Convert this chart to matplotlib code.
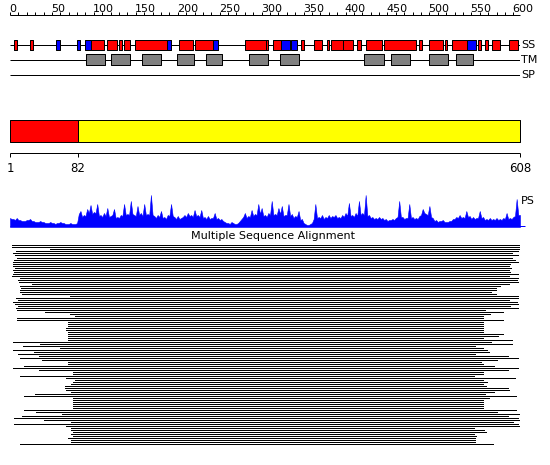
import matplotlib
matplotlib.use('Agg')
import matplotlib.pyplot as plt
import numpy as np

# ---------------- data ----------------
seq_len = 608
ruler_minor = list(range(0, 601, 10))
ruler_major = list(range(0, 601, 50))

# secondary structure: helices (red) and strands (blue) as (start, end)
ss_helix = [(5, 8), (24, 28), (96, 112), (116, 127), (130, 133), (136, 143),
            (149, 187), (201, 218), (220, 242), (280, 305), (305, 308),
            (313, 323), (347, 350), (363, 372), (378, 380), (383, 397),
            (397, 409), (414, 418), (424, 443), (446, 484), (487, 491),
            (500, 516), (518, 521), (527, 545), (558, 561), (566, 570),
            (575, 584), (595, 606)]
ss_strand = [(55, 60), (80, 84), (89, 96), (187, 192), (242, 248),
             (323, 334), (335, 342), (545, 556)]
# transmembrane segments
tm_segments = [(91, 113), (120, 143), (157, 180), (199, 219), (234, 253),
               (285, 308), (322, 345), (422, 446), (454, 477), (500, 522),
               (532, 552)]
track_labels = ['SS', 'TM', 'SP']

# domain bar
domain_bounds = [1, 82, 608]
domain_colors = ['#ff0000', '#ffff00']

# PS profile (one value every 2 residues)
ps_residues = list(range(0, 609, 2))
ps_values = [9, 8, 8, 7, 9, 7, 7, 6, 6, 6, 7, 7, 8, 6, 6, 5, 5, 5, 6, 5,
             5, 4, 4, 4, 5, 4, 4, 3, 4, 4, 5, 4, 4, 3, 3, 3, 4, 3, 3, 3,
             4, 13, 16, 10, 12, 11, 18, 14, 22, 13, 15, 14, 23, 11, 12, 10, 14, 11, 19, 10,
             11, 12, 18, 9, 10, 9, 12, 11, 23, 12, 13, 12, 26, 13, 12, 11, 21, 12, 14, 11,
             23, 12, 13, 12, 32, 12, 11, 9, 12, 10, 16, 9, 10, 8, 12, 11, 23, 11, 10, 8,
             11, 8, 9, 10, 12, 10, 14, 11, 12, 10, 17, 11, 12, 10, 17, 9, 10, 8, 11, 8,
             9, 9, 14, 8, 9, 7, 8, 6, 5, 4, 4, 3, 5, 4, 3, 3, 4, 6, 8, 10,
             14, 9, 11, 10, 17, 11, 13, 12, 23, 13, 19, 11, 12, 10, 14, 12, 26, 12, 13, 12,
             19, 13, 21, 11, 12, 12, 23, 11, 13, 9, 11, 10, 16, 7, 8, 4, 3, 2, 2, 3,
             4, 8, 23, 9, 10, 9, 12, 8, 10, 9, 12, 9, 11, 10, 12, 9, 10, 9, 12, 10,
             14, 11, 24, 11, 12, 10, 14, 11, 26, 12, 14, 12, 32, 11, 12, 9, 10, 8, 9, 8,
             10, 8, 9, 7, 8, 6, 7, 7, 8, 7, 9, 10, 26, 10, 10, 8, 9, 9, 23, 9,
             10, 8, 9, 8, 11, 12, 18, 14, 13, 12, 21, 10, 9, 6, 7, 5, 6, 6, 7, 5,
             5, 5, 6, 6, 8, 8, 10, 9, 12, 9, 10, 9, 16, 10, 11, 8, 10, 8, 9, 9,
             16, 9, 10, 7, 8, 7, 9, 7, 8, 7, 9, 7, 8, 7, 9, 8, 14, 8, 9, 8,
             10, 11, 28, 12, 12]

# multiple sequence alignment: start / end residue of each aligned sequence
msa_start = [3, 3, 49, 8, 5, 7, 9, 6, 4, 5,
             4, 7, 5, 6, 5, 3, 13, 11, 12, 27,
             13, 14, 13, 13, 15, 72, 8, 11, 5, 7,
             11, 8, 9, 43, 72, 78, 9, 9, 70, 70,
             70, 68, 68, 70, 70, 70, 70, 70,
             5, 37, 16, 60, 4, 29, 11, 35, 13, 39,
             70, 70, 18, 4, 35, 76, 76, 13, 68, 78,
             76, 74, 66, 66, 68, 74, 31, 18, 76, 76,
             76, 76, 76, 76, 18, 32, 63, 15, 6, 41,
             74, 6, 68, 74, 74, 76, 74, 76, 70, 74,
             74, 13]
msa_end = [608, 608, 607, 606, 599, 606, 598, 602, 606, 596,
           595, 597, 595, 596, 606, 595, 606, 604, 606, 595,
           584, 580, 579, 574, 580, 606, 606, 595, 604, 606,
           596, 606, 566, 588, 572, 564, 564, 588, 564, 564,
           564, 564, 564, 564, 588, 582, 564, 598,
           574, 599, 555, 564, 569, 571, 555, 594, 606, 581,
           562, 564, 577, 606, 594, 564, 564, 553, 602, 564,
           569, 564, 568, 594, 595, 577, 566, 603, 571, 564,
           564, 564, 564, 564, 603, 581, 607, 594, 606, 608,
           600, 606, 607, 553, 565, 568, 553, 556, 555, 555,
           555, 576]

# ---------------- drawing ----------------
W, H = 550, 465
fig = plt.figure(figsize=(W / 100, H / 100), dpi=100)
fig.patch.set_facecolor('white')
LW = 0.72
FS = 8


def panel(x0, x1, top, bottom, xlim, ylim):
    ax = fig.add_axes([x0 / W, 1 - bottom / H, (x1 - x0) / W, (bottom - top) / H])
    ax.set_xlim(*xlim)
    ax.set_ylim(*ylim)
    ax.axis('off')
    return ax


# top: ruler + tracks
ax = panel(10, 520, 0, 85, (0, seq_len), (85, 0))
ax.hlines(15, 0, seq_len, colors='black', lw=LW, clip_on=False)
ax.vlines(ruler_minor, 12, 15, colors='black', lw=LW)
for v in ruler_major:
    ax.text(v - 1, 11.5, str(v), ha='left', va='baseline', fontsize=FS)

track_y = [45, 60, 75]
for y, lab in zip(track_y, track_labels):
    ax.hlines(y, 0, seq_len, colors='black', lw=LW, zorder=1)
    ax.text(seq_len + 1, y, lab, ha='left', va='center', fontsize=FS, clip_on=False)

ax.broken_barh([(s, e - s) for s, e in ss_helix], (40, 10), facecolors='#ff0000',
               edgecolors='black', linewidth=LW, zorder=2)
ax.broken_barh([(s, e - s) for s, e in ss_strand], (40, 10), facecolors='#0000ff',
               edgecolors='black', linewidth=LW, zorder=2)
ax.broken_barh([(s, e - s) for s, e in tm_segments], (54.5, 11), facecolors='#808080',
               edgecolors='black', linewidth=LW, zorder=2)

# domain bar
axd = panel(10, 520, 118, 178, (1, seq_len), (178, 118))
for (s, e), c in zip(zip(domain_bounds[:-1], domain_bounds[1:]), domain_colors):
    axd.broken_barh([(s, e - s)], (120.5, 21.5), facecolors=c, edgecolors='black',
                    linewidth=LW, clip_on=False)
axd.hlines(153, domain_bounds[0], domain_bounds[-1], colors='black', lw=LW, clip_on=False)
axd.vlines(domain_bounds, 153, 157, colors='black', lw=LW, clip_on=False)
for v in domain_bounds:
    axd.text(v, 168, str(v), ha='center', va='center', fontsize=8.5)

# PS profile
axp = panel(10, 520, 192, 227, (0, seq_len), (0, 35))
axp.fill_between(ps_residues, 0, ps_values, color='#0000ff', lw=0.4)
axp.hlines(0.5, 0, seq_len + 6, colors='#0000ff', lw=LW, clip_on=False)
axp.text(seq_len + 1, 26, 'PS', ha='left', va='center', fontsize=FS, clip_on=False)

# MSA
axm = panel(10, 520, 244.5, 444.5, (1, seq_len), (100, 0))
rows = np.arange(len(msa_start)) + 0.5
axm.hlines(rows, msa_start, msa_end, colors='black', lw=LW, antialiased=False)
fig.text(273 / W, 1 - 236 / H, 'Multiple Sequence Alignment', ha='center',
         va='center', fontsize=FS)

fig.savefig('out.png', dpi=100, facecolor='white')
